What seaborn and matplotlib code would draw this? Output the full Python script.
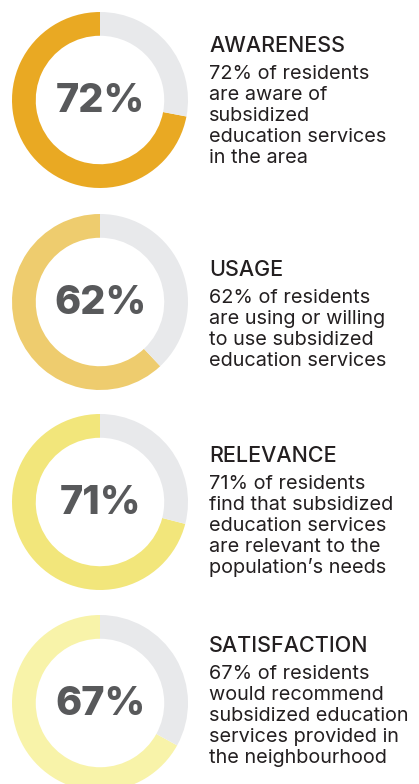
import matplotlib
matplotlib.use("Agg")
import matplotlib.pyplot as plt
import seaborn as sns

titles = ["AWARENESS", "USAGE", "RELEVANCE", "SATISFACTION"]
values = [72, 62, 71, 67]
descriptions = [
    ["72% of residents", "are aware of", "subsidized", "education services", "in the area"],
    ["62% of residents", "are using or willing", "to use subsidized", "education services"],
    ["71% of residents", "find that subsidized", "education services", "are relevant to the", "population\u2019s needs"],
    ["67% of residents", "would recommend", "subsidized education", "services provided in", "the neighbourhood"],
]
ring_colors = ["#E9A923", "#EECC6E", "#F2E67B", "#F8F3A9"]
rest_color = "#E8E9EB"

sns.set_theme(style="white")
plt.rcParams["font.family"] = ["Inter", "DejaVu Sans"]

W, H = 419, 784
fig = plt.figure(figsize=(W / 100, H / 100), dpi=100)
fig.patch.set_facecolor("white")

# overlay axes in pixel coordinates for the text
tax = fig.add_axes([0, 0, 1, 1])
tax.set_xlim(0, W)
tax.set_ylim(H, 0)
tax.axis("off")

centers_y = [100, 302, 502, 703]
title_base = [52, 276, 462, 652]
R = 88
cx = 100

for i, (t, v, desc, col) in enumerate(zip(titles, values, descriptions, ring_colors)):
    cy = centers_y[i]
    ax = fig.add_axes([(cx - R) / W, 1 - (cy + R) / H, 2 * R / W, 2 * R / H])
    ax.pie([v, 100 - v], colors=[col, rest_color], startangle=90,
           counterclock=True, radius=1,
           wedgeprops=dict(width=0.27, edgecolor="none"))
    ax.set_xlim(-1, 1)
    ax.set_ylim(-1, 1)
    ax.set_aspect("equal")
    ax.axis("off")
    ax.text(0, -0.02, f"{v}%", ha="center", va="center", fontsize=28.5,
            fontweight="heavy", color="#58595B")

    tax.text(209, title_base[i], t, fontsize=15.5, fontweight="medium",
             color="#231F20", va="baseline", ha="left")
    for j, line in enumerate(desc):
        tax.text(209, title_base[i] + 27 + 21 * j, line, fontsize=14.3,
                 color="#231F20", va="baseline", ha="left")

fig.savefig("out.png", dpi=100, facecolor="white")
